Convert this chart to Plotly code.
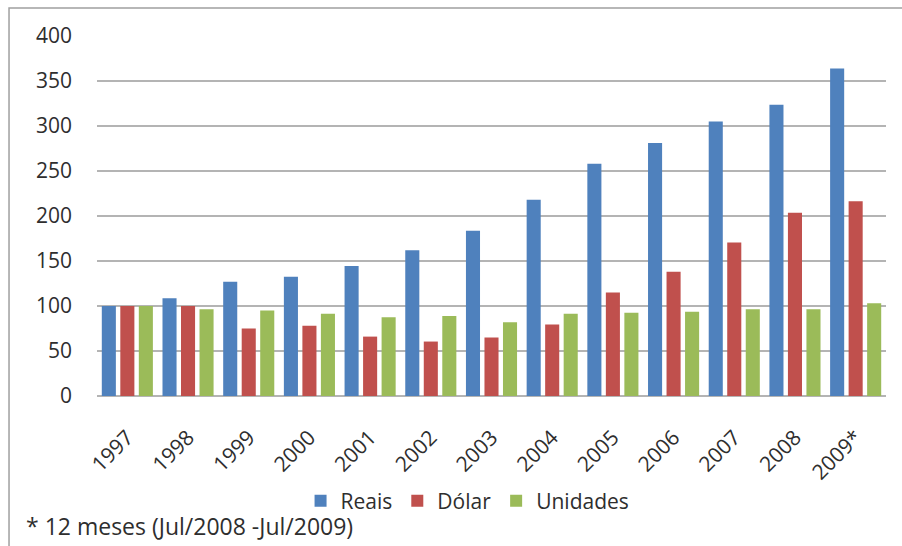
import plotly.graph_objects as go

# Index values (1997 = 100)
anos = ["1997", "1998", "1999", "2000", "2001", "2002", "2003",
        "2004", "2005", "2006", "2007", "2008", "2009*"]
reais = [100, 108.5, 127, 132.5, 144.5, 162, 183.5, 218, 258, 281, 305, 323.5, 364]
dolar = [100, 100, 75, 78, 66, 60.5, 65, 79.5, 115, 138, 170.5, 203.5, 216.5]
unidades = [100, 96.5, 95, 91.5, 87.5, 89, 82, 91.5, 92.5, 93.5, 96.5, 96.5, 103]
y_ticks = [0, 50, 100, 150, 200, 250, 300, 350, 400]

FONT = "Open Sans"
TXT = "#2e2e2e"
GRID = "#b4b4b4"

fig = go.Figure()
for nome, vals, cor in [("Reais", reais, "#4F81BD"),
                        ("Dólar", dolar, "#C0504D"),
                        ("Unidades", unidades, "#9BBB59")]:
    fig.add_trace(go.Bar(x=anos, y=vals, name=nome, marker_color=cor,
                         marker_line_width=0))

fig.update_layout(
    width=902, height=546,
    margin=dict(l=97, r=16, t=36, b=150),
    paper_bgcolor="white", plot_bgcolor="white",
    barmode="group", bargap=0.085, bargroupgap=0.24,
    font=dict(family=FONT, size=20, color=TXT),
    showlegend=True,
    legend=dict(orientation="h", x=0.258, xanchor="left", y=-0.292, yanchor="middle",
                font=dict(family=FONT, size=21, color=TXT),
                itemwidth=30, tracegroupgap=0, bgcolor="rgba(0,0,0,0)"),
    xaxis=dict(tickangle=-45, tickfont=dict(family=FONT, size=21, color=TXT),
               showgrid=False, showline=False, ticks="", zeroline=False,
               ticklabelstandoff=24),
    yaxis=dict(range=[0, 400], tickvals=y_ticks, showgrid=True, gridcolor=GRID,
               gridwidth=1.5, zeroline=True, zerolinecolor=GRID, zerolinewidth=1.5,
               showline=False, ticks="", ticklabelstandoff=24,
               tickfont=dict(family=FONT, size=21, color=TXT)),
    annotations=[dict(text="* 12 meses (Jul/2008 -Jul/2009)", xref="paper", yref="paper",
                      x=-0.092, y=-0.362, xanchor="left", yanchor="middle",
                      showarrow=False, font=dict(family=FONT, size=23, color=TXT))],
    shapes=[dict(type="rect", xref="paper", yref="paper",
                 x0=-0.1115, y0=-1.0, x1=1.2, y1=1.0778,
                 line=dict(color="#a0a0a0", width=1.5), layer="below")],
)

fig.write_html("out.html")
